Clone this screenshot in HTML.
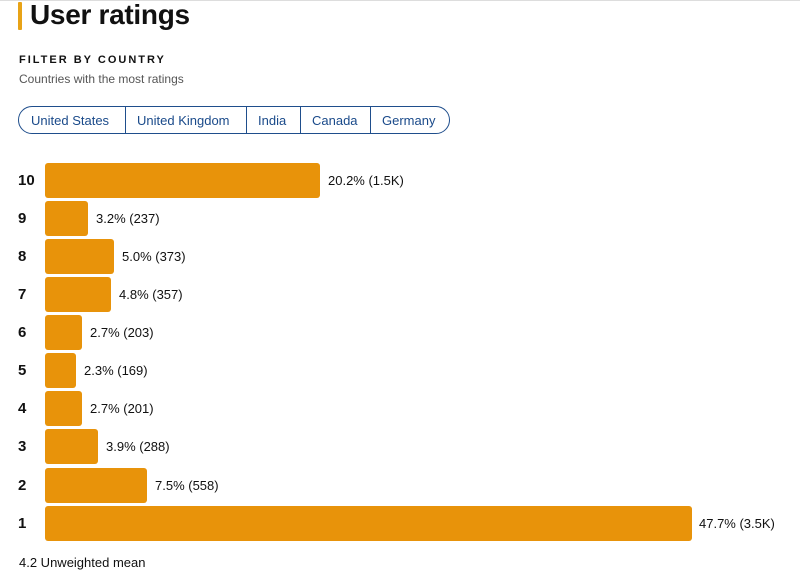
<!DOCTYPE html>
<html><head><style>
body{margin:0;width:800px;height:587px;background:#fff;font-family:"Liberation Sans",sans-serif;position:relative;overflow:hidden}
.a{position:absolute}
.bar{position:absolute;left:45px;height:35px;background:#e8930a;border-radius:3px}
.n{position:absolute;left:18px;font-weight:bold;font-size:15px;color:#111}
.l{position:absolute;font-size:13px;color:#111}
</style></head><body>
<div class="a" style="left:0;top:0;width:800px;height:1px;background:#ddd"></div>
<div class="a" style="left:18px;top:2px;width:4px;height:28px;background:#e8a317;border-radius:1px"></div>
<div class="a" style="left:30px;top:-1px;font-size:28px;font-weight:bold;color:#111;letter-spacing:-0.3px">User ratings</div>
<div class="a" style="left:19px;top:54px;font-size:11px;font-weight:bold;letter-spacing:2px;color:#111">FILTER BY COUNTRY</div>
<div class="a" style="left:19px;top:72px;font-size:12px;color:#555">Countries with the most ratings</div>
<div class="a" style="left:18px;top:106px;width:430px;height:26px;border:1.5px solid #1f4e8c;border-radius:15px"></div>
<div class="a" style="left:125px;top:107px;width:1px;height:27px;background:#1f4e8c"></div>
<div class="a" style="left:246px;top:107px;width:1px;height:27px;background:#1f4e8c"></div>
<div class="a" style="left:300px;top:107px;width:1px;height:27px;background:#1f4e8c"></div>
<div class="a" style="left:370px;top:107px;width:1px;height:27px;background:#1f4e8c"></div>
<div class="a" style="top:113px;left:31px;font-size:13px;color:#1a4a8a">United States</div>
<div class="a" style="top:113px;left:137px;font-size:13px;color:#1a4a8a">United Kingdom</div>
<div class="a" style="top:113px;left:258px;font-size:13px;color:#1a4a8a">India</div>
<div class="a" style="top:113px;left:312px;font-size:13px;color:#1a4a8a">Canada</div>
<div class="a" style="top:113px;left:382px;font-size:13px;color:#1a4a8a">Germany</div>

<div class="n" style="top:172px">10</div><div class="bar" style="top:163px;width:275px"></div><div class="l" style="top:173px;left:328px">20.2% (1.5K)</div>
<div class="n" style="top:210px">9</div><div class="bar" style="top:201px;width:43px"></div><div class="l" style="top:211px;left:96px">3.2% (237)</div>
<div class="n" style="top:248px">8</div><div class="bar" style="top:239px;width:69px"></div><div class="l" style="top:249px;left:122px">5.0% (373)</div>
<div class="n" style="top:286px">7</div><div class="bar" style="top:277px;width:66px"></div><div class="l" style="top:287px;left:119px">4.8% (357)</div>
<div class="n" style="top:324px">6</div><div class="bar" style="top:315px;width:37px"></div><div class="l" style="top:325px;left:90px">2.7% (203)</div>
<div class="n" style="top:362px">5</div><div class="bar" style="top:353px;width:31px"></div><div class="l" style="top:363px;left:84px">2.3% (169)</div>
<div class="n" style="top:400px">4</div><div class="bar" style="top:391px;width:37px"></div><div class="l" style="top:401px;left:90px">2.7% (201)</div>
<div class="n" style="top:438px">3</div><div class="bar" style="top:429px;width:53px"></div><div class="l" style="top:439px;left:106px">3.9% (288)</div>
<div class="n" style="top:477px">2</div><div class="bar" style="top:468px;width:102px"></div><div class="l" style="top:478px;left:155px">7.5% (558)</div>
<div class="n" style="top:515px">1</div><div class="bar" style="top:506px;width:647px"></div><div class="l" style="top:516px;left:699px">47.7% (3.5K)</div>
<div class="a" style="left:19px;top:555px;font-size:13px;color:#111">4.2 Unweighted mean</div>
</body></html>
